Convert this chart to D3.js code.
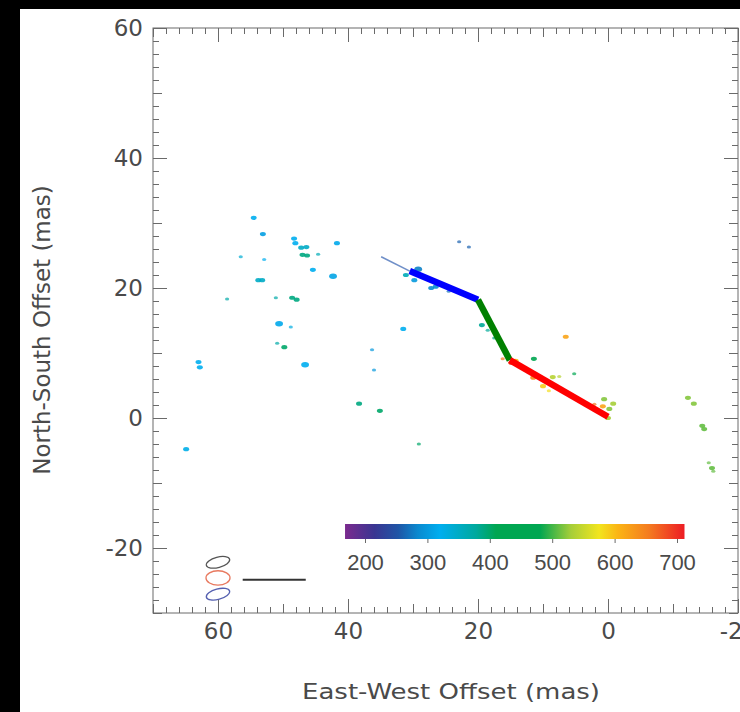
<!DOCTYPE html>
<html>
<head>
<meta charset="utf-8">
<script src="https://cdn.jsdelivr.net/npm/d3@7"></script>
<style>
  html, body { margin: 0; padding: 0; background: #fff; }
  svg { display: block; }
  text { font-family: "DejaVu Sans", sans-serif; fill: #4a4a4a; }
</style>
</head>
<body>
<div id="chart"></div>
<script>

// maser spots: east-west offset (mas), north-south offset (mas), velocity (km/s), relative flux
var spotX = [54.5, 53.1, 48.3, 48.1, 41.7, 47.2, 46.4, 47.0, 46.3, 44.6, 56.5, 52.9, 45.4, 42.3, 53.8, 53.2,
	58.6, 51.1, 48.6, 47.9, 50.6, 48.8, 50.9, 49.8, 63.0, 62.8, 46.6, 64.9, 36.3, 36.0, 38.3, 35.1, 29.1, 31.5,
	22.9, 21.4, 29.2, 31.1, 29.8, 27.2, 26.5, 24.5, 20.0, 19.4, 18.5, 17.5, 6.5, 16.2, 14.9, 14.2, 11.4, 11.5,
	10.0, 9.1, 8.5, 7.5, 5.2, 0.6, -0.8, -0.2, 0.8, 0.0, 2.1, 12.8, -12.3, -13.2, -14.5, -14.8, -15.5, -16.0, -16.2];
var spotY = [30.8, 28.3, 27.6, 26.9, 26.9, 26.2, 26.3, 25.1, 25.0, 25.2, 24.8, 24.4, 22.8, 21.8, 21.2, 21.2,
	18.3, 18.5, 18.5, 18.2, 14.5, 14.0, 11.5, 10.9, 8.6, 7.8, 8.2, -4.8, 10.5, 7.4, 2.2, 1.1, -4.0, 13.7,
	27.1, 26.3, 22.9, 22.0, 21.2, 20.0, 20.2, 19.5, 18.0, 14.3, 13.5, 12.3, 12.5, 9.1, 8.5, 8.8, 9.1, 6.2,
	4.9, 4.2, 6.3, 6.4, 6.8, 2.9, 2.2, 1.4, 1.8, 0.0, 2.1, 7.5, 3.1, 2.2, -1.2, -1.7, -6.9, -7.7, -8.2];
var spotV = [320, 305, 320, 320, 315, 350, 350, 390, 390, 360, 340, 320, 320, 310, 350, 350,
	370, 370, 390, 390, 315, 330, 370, 400, 320, 320, 320, 325, 300, 300, 390, 400, 400, 320,
	260, 260, 280, 360, 300, 290, 290, 270, 250, 380, 380, 390, 620, 660, 690, 600, 470, 640,
	590, 580, 540, 540, 430, 520, 530, 520, 620, 530, 660, 610, 520, 520, 510, 510, 510, 510, 510];
var spotFlux = [2, 2, 2, 2, 2, 2, 2, 2, 2, 1, 1, 1, 2, 3, 2, 2,
	1, 1, 2, 2, 3, 1, 1, 2, 2, 2, 3, 2, 1, 1, 2, 2, 1, 2,
	1, 1, 3, 2, 2, 2, 2, 1, 1, 2, 1, 1, 2, 1, 2, 2, 2, 2,
	2, 1, 2, 1, 1, 2, 2, 2, 2, 2, 1, 2, 2, 2, 2, 2, 1, 2, 1];

// fitted jet track
var extX = [34.9, 30.5];
var extY = [24.8, 22.6];
var trackX = [30.5, 20.0, 15.1, 0.0];
var trackY = [22.6, 18.2, 8.9, 0.2];
var trackColors = ["#0000ff", "#008000", "#ff0000"];

// restoring beams (mas) and scale bar
var beamY = [-22.2, -24.6, -27.1];
var beamMajor = [1.85, 1.85, 1.85];
var beamMinor = [0.8, 1.1, 0.8];
var beamPA = [-15, 0, -15];
var beamColors = ["#555555", "#e8795f", "#5560b0"];
var beamX = 60;
var barX = [56.2, 46.5];
var barY = -24.9;

// velocity colour bar
var velStops = [168, 215, 253, 285, 320, 378, 410, 480, 530, 575, 605, 655, 712];
var velColors = ["#7b2a8e", "#3a3592", "#1f55a6", "#0a8ad0", "#00aeef", "#00a99d", "#00a651", "#00a651",
	"#a6ce39", "#f2e51e", "#fbb515", "#f47b20", "#ed1c24"];
var velTicks = [200, 300, 400, 500, 600, 700];

var xDomain = [70, -20];
var yDomain = [-30, 60];

var W = 740, H = 712;
var mLeft = 153, mTop = 28, size = 585;

var svg = d3.select("#chart").append("svg").attr("width", W).attr("height", H);
svg.append("rect").attr("width", W).attr("height", H).attr("fill", "#fff");

var x = d3.scaleLinear().domain(xDomain).range([mLeft, mLeft + size]);
var y = d3.scaleLinear().domain(yDomain).range([mTop + size, mTop]);
var color = d3.scaleLinear().domain(velStops).range(velColors);
var fmt = function(d) { return String(d); };

var spots = spotX.map(function(d, i) {
	return {x: d, y: spotY[i], v: spotV[i], f: spotFlux[i]};
});

// axes: minor every 2, medium every 10, major every 20 (labelled)
function ticks(step, lo, hi) {
	return d3.range(Math.ceil(lo / step) * step, hi + 0.001, step);
}
var levels = [
	{step: 2, len: 6},
	{step: 10, len: 9},
	{step: 20, len: 14}
];
levels.forEach(function(l) {
	var xt = ticks(l.step, -20, 70), yt = ticks(l.step, -30, 60);
	var major = l.step == 20;
	var ax = [
		{a: d3.axisBottom(x).tickValues(xt), t: "translate(0," + (mTop + size) + ")", lab: major},
		{a: d3.axisTop(x).tickValues(xt), t: "translate(0," + mTop + ")", lab: false},
		{a: d3.axisLeft(y).tickValues(yt), t: "translate(" + mLeft + ",0)", lab: major},
		{a: d3.axisRight(y).tickValues(yt), t: "translate(" + (mLeft + size) + ",0)", lab: false}
	];
	ax.forEach(function(o) {
		o.a.tickSize(-l.len).tickPadding(o.lab ? 10 : 0).tickFormat(o.lab ? fmt : "");
		var g = svg.append("g").attr("transform", o.t).call(o.a);
		g.select(".domain").remove();
		g.selectAll("line").attr("stroke", "#6a6a6a");
		g.selectAll("text").style("font-size", "23px").attr("fill", "#4a4a4a")
			.style("font-family", "'DejaVu Sans', sans-serif");
	});
});
svg.append("rect").attr("x", mLeft).attr("y", mTop).attr("width", size).attr("height", size)
	.attr("fill", "none").attr("stroke", "#6a6a6a");

// maser spots
svg.append("g").selectAll("ellipse").data(spots).enter().append("ellipse")
	.attr("cx", function(d) { return x(d.x); })
	.attr("cy", function(d) { return y(d.y); })
	.attr("rx", function(d) { return 1.2 + d.f * 0.9; })
	.attr("ry", function(d) { return 0.9 + d.f * 0.6; })
	.attr("fill", function(d) { return color(d.v); })
	.attr("opacity", function(d) { return d.f == 1 ? 0.7 : 0.9; });

// jet track
svg.append("line")
	.attr("x1", x(extX[0])).attr("y1", y(extY[0]))
	.attr("x2", x(extX[1])).attr("y2", y(extY[1]))
	.attr("stroke", "#6f8fc8").attr("stroke-width", 1.6);
trackColors.forEach(function(c, i) {
	svg.append("line")
		.attr("x1", x(trackX[i])).attr("y1", y(trackY[i]))
		.attr("x2", x(trackX[i + 1])).attr("y2", y(trackY[i + 1]))
		.attr("stroke", c).attr("stroke-width", 6.5);
});

// beams
var pxPerMas = x(0) - x(1);
beamY.forEach(function(by, i) {
	svg.append("ellipse")
		.attr("transform", "translate(" + x(beamX) + "," + y(by) + ") rotate(" + beamPA[i] + ")")
		.attr("rx", beamMajor[i] * pxPerMas)
		.attr("ry", beamMinor[i] * pxPerMas)
		.attr("fill", "none").attr("stroke", beamColors[i]).attr("stroke-width", 1.3);
});
svg.append("line")
	.attr("x1", x(barX[0])).attr("x2", x(barX[1]))
	.attr("y1", y(barY)).attr("y2", y(barY))
	.attr("stroke", "#333").attr("stroke-width", 2);

// colour bar
var cb = d3.scaleLinear().domain([200, 700]).range([365, 677]);
var grad = svg.append("defs").append("linearGradient").attr("id", "vgrad");
velStops.forEach(function(v, i) {
	grad.append("stop")
		.attr("offset", (v - velStops[0]) / (velStops[velStops.length - 1] - velStops[0]))
		.attr("stop-color", velColors[i]);
});
svg.append("rect")
	.attr("x", cb(velStops[0])).attr("y", 524)
	.attr("width", cb(velStops[velStops.length - 1]) - cb(velStops[0])).attr("height", 15)
	.attr("fill", "url(#vgrad)");
var cbAxis = svg.append("g").attr("transform", "translate(0,539)")
	.call(d3.axisBottom(cb).tickValues(velTicks).tickSize(4).tickPadding(11).tickFormat(fmt));
cbAxis.select(".domain").remove();
cbAxis.selectAll("line").attr("stroke", "#6a6a6a");
cbAxis.selectAll("text").style("font-size", "22px").attr("fill", "#4a4a4a")
	.style("font-family", "'Liberation Sans', Arial, sans-serif");

// axis titles
svg.append("text").attr("x", 451).attr("y", 699).attr("text-anchor", "middle")
	.attr("textLength", 298).attr("lengthAdjust", "spacingAndGlyphs")
	.style("font-size", "22px").text("East-West Offset (mas)");
svg.append("text").attr("transform", "translate(50,330) rotate(-90)").attr("text-anchor", "middle")
	.style("font-size", "23px").text("North-South Offset (mas)");

// black border of the original figure
svg.append("rect").attr("width", W).attr("height", 9).attr("fill", "#000");
svg.append("rect").attr("width", 20).attr("height", H).attr("fill", "#000");

</script>
</body>
</html>
